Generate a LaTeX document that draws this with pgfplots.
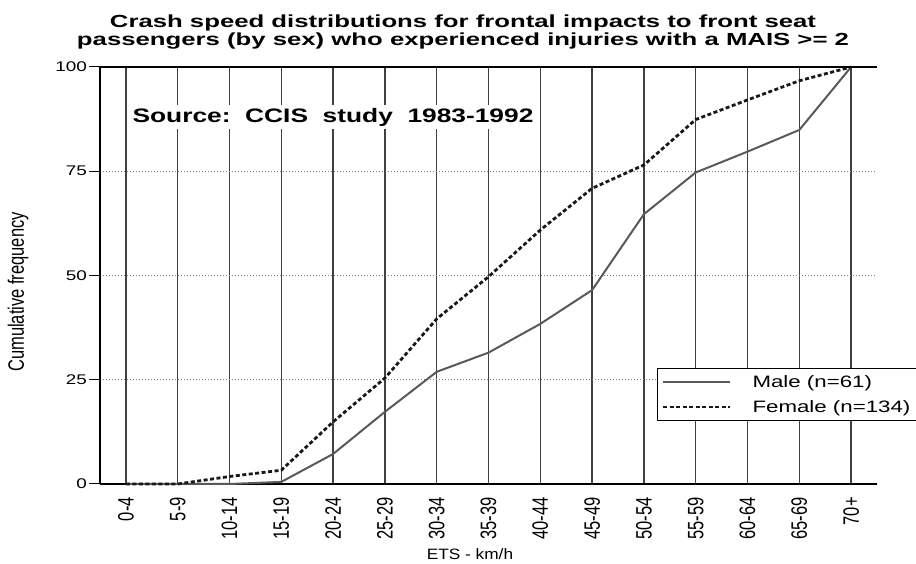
\documentclass[border=0pt]{standalone}
\usepackage{pgfplots}
\pgfplotsset{compat=1.18}
\usepackage{fontspec}
\setmainfont{Liberation Sans}
\newcommand{\hs}[1]{\scalebox{1.35}[1]{#1}}
\newcommand{\ts}[1]{\scalebox{1.47}[1]{#1}}
\newcommand{\vs}[1]{\scalebox{1}[1.35]{#1}}
\definecolor{maleline}{gray}{0.35}
\definecolor{femline}{gray}{0.1}
\definecolor{gridc}{gray}{0.25}
\begin{document}
\begin{tikzpicture}
\useasboundingbox (-100pt,-80pt) rectangle (816pt,484pt);
\begin{axis}[
  at={(0pt,0pt)}, anchor=south west,
  scale only axis, width=777pt, height=417pt,
  xmin=-0.5, xmax=14.5, ymin=0, ymax=100,
  axis x line=bottom, axis y line=left,
  axis line style={black, line width=1.5pt, -},
  xtick={0,...,14},
  xticklabels={\vs{0-4},\vs{5-9},\vs{10-14},\vs{15-19},\vs{20-24},\vs{25-29},\vs{30-34},\vs{35-39},\vs{40-44},\vs{45-49},\vs{50-54},\vs{55-59},\vs{60-64},\vs{65-69},\vs{70+}},
  ytick={0,25,50,75,100},
  yticklabels={\hs{0},\hs{25},\hs{50},\hs{75},\hs{100}},
  xmajorgrids, ymajorgrids,
  every axis x grid/.append style={gridc, line width=1.3pt, solid},
  every axis y grid/.append style={gray, line width=1pt, dotted},
  tick align=outside, major tick length=11pt,
  xtick style={draw=none},
  ytick style={black, line width=1pt},
  yticklabel style={font=\fontsize{14}{14}\selectfont, inner sep=2pt},
  xticklabel style={rotate=90, anchor=east, font=\fontsize{16.5}{17}\selectfont, inner xsep=2pt, inner ysep=0pt},
  legend style={at={(0.717,0.278)}, anchor=north west, draw=black, line width=1.3pt,
    font=\fontsize{16.5}{18}\selectfont, legend cell align=left,
    inner xsep=4pt, inner ysep=5pt, row sep=7pt,
    /tikz/every odd column/.append style={column sep=19pt}},
  legend image code/.code={\draw[#1] (0pt,0pt) -- (67pt,0pt);},
  clip=false,
]
\addplot[maleline, line width=2pt] coordinates {
  (0,0) (1,0) (2,0) (3,0.5) (4,7.2) (5,17.3) (6,26.9) (7,31.5)
  (8,38.4) (9,46.5) (10,64.7) (11,74.7) (12,79.7) (13,84.9) (14,100)};
\addlegendentry{\hs{Male (n=61)}}
\addplot[femline, line width=2.8pt, dash pattern=on 4pt off 2.5pt] coordinates {
  (0,0) (1,0) (2,1.8) (3,3.3) (4,14.9) (5,25.4) (6,39.6) (7,49.7)
  (8,60.9) (9,70.9) (10,76.5) (11,87.4) (12,92.1) (13,96.7) (14,100)};
\addlegendentry{\hs{Female (n=134)}}
\end{axis}
\draw[black, line width=1.1pt] (0pt,417pt) -- (777pt,417pt);
\node[fill=white, inner sep=3pt, font=\bfseries\fontsize{19.5}{22}\selectfont] at (233pt,367pt) {\hs{Source:\ \ CCIS\ \ study\ \ 1983-1992}};
\node[anchor=base, font=\bfseries\fontsize{17.5}{20}\selectfont] at (363pt,456pt) {\ts{Crash speed distributions for frontal impacts to front seat}};
\node[anchor=base, font=\bfseries\fontsize{17.5}{20}\selectfont] at (363pt,438pt) {\ts{passengers (by sex) who experienced injuries with a MAIS >= 2}};
\node[anchor=base, font=\fontsize{15}{17}\selectfont] at (370pt,-76pt) {\scalebox{1.15}[1]{ETS - km/h}};
\node[rotate=90, font=\fontsize{16.5}{18}\selectfont] at (-82pt,192pt) {\vs{Cumulative frequency}};
\end{tikzpicture}
\end{document}
